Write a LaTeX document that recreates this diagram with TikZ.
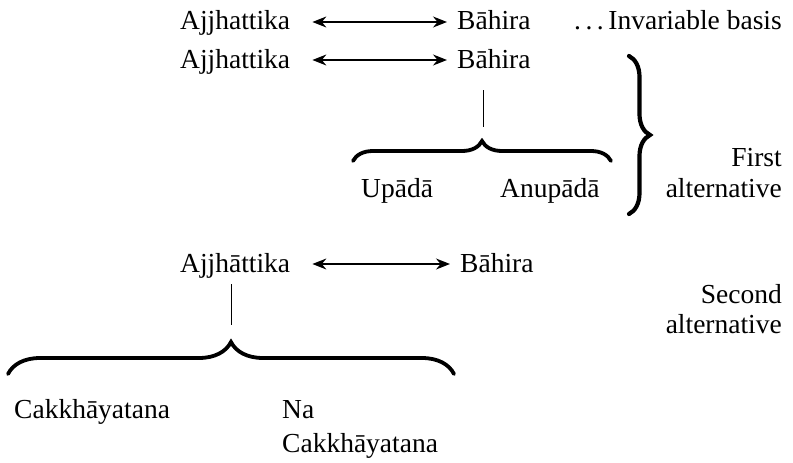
\documentclass[tikz,border=0pt]{standalone}
\usepackage{fontspec}
\setmainfont{Liberation Serif}
\usetikzlibrary{arrows.meta,decorations.pathreplacing}
\begin{document}
\begin{tikzpicture}[x=1pt,y=-1pt,
  term/.style={inner sep=0pt,text height=21pt,text depth=5pt,font=\fontsize{27.5}{30}\selectfont},
  rterm/.style={term,anchor=base east},
  lterm/.style={term,anchor=base west},
  link/.style={{Stealth[length=14pt,width=11pt]}-{Stealth[length=14pt,width=11pt]},line width=1.3pt,shorten <=22pt,shorten >=10pt},
  stem/.style={line width=1pt},
  hbrace/.style={decorate,line width=3.8pt,line cap=round,decoration={brace,amplitude=#1}},
]
\useasboundingbox (0,0) rectangle (793,463);

% invariable basis
\node[lterm] (a1) at (180,30) {Ajjhattika};
\node[lterm] (b1) at (457,30) {Bāhira};
\node[rterm] (inv) at (782,30) {.\,.\,.\,Invariable basis};
\draw[link] (a1.east) -- (b1.west);

% first alternative
\node[lterm] (a2) at (180,68) {Ajjhattika};
\node[lterm] (b2) at (457,68) {Bāhira};
\draw[link] (a2.east) -- (b2.west);
\coordinate (s1top) at (483,90);
\coordinate (s1bot) at (483,127);
\draw[stem] (s1top) -- (s1bot);
\coordinate (br1l) at (353,161);
\coordinate (br1r) at (611,161);
\draw[hbrace=20pt] (br1l) -- (br1r);
\node[lterm] (up) at (361,197) {Upādā};
\node[lterm] (anu) at (500,197) {Anupādā};
\coordinate (bbt) at (629,56);
\coordinate (bbb) at (629,214);
\draw[hbrace=21pt,line width=4.2pt] (bbt) -- (bbb);
\node[rterm] (first) at (782,166) {First};
\node[rterm] (alt1) at (782,197) {alternative};

% second alternative
\node[lterm] (a3) at (180,272) {Ajjhāttika};
\node[lterm] (b3) at (460,272) {Bāhira};
\draw[link] (a3.east) -- (b3.west);
\coordinate (s2top) at (231,284);
\coordinate (s2bot) at (231,325);
\draw[stem] (s2top) -- (s2bot);
\coordinate (br2l) at (8,374);
\coordinate (br2r) at (454,374);
\draw[hbrace=32pt] (br2l) -- (br2r);
\node[rterm] (second) at (782,303) {Second};
\node[rterm] (alt2) at (782,333) {alternative};
\node[lterm] (cak) at (14,418) {Cakkhāyatana};
\node[lterm] (na) at (282,418) {Na};
\node[lterm] (nacak) at (282,452) {Cakkhāyatana};
\end{tikzpicture}
\end{document}
